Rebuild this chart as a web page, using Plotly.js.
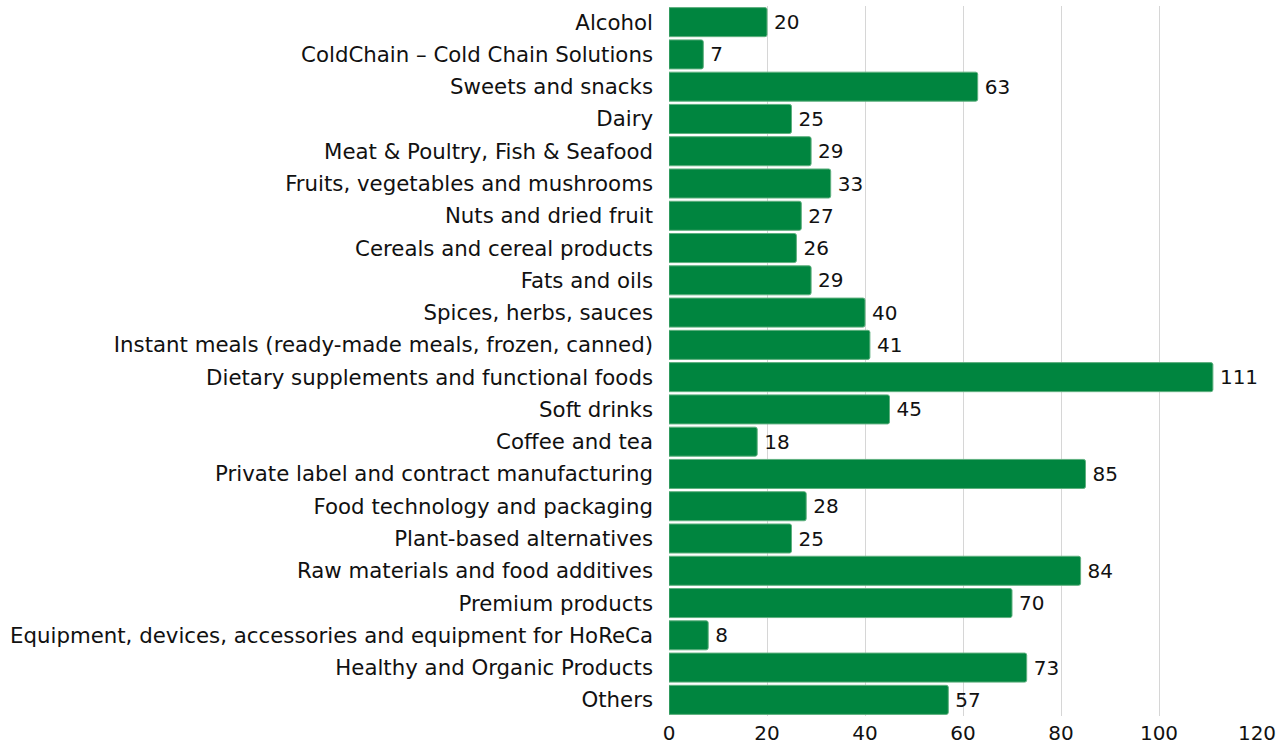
<!DOCTYPE html>
<html>
<head>
<meta charset="utf-8">
<script src="https://cdn.plot.ly/plotly-3.0.1.min.js"></script>
<style>html,body{margin:0;padding:0;background:#fff;}#chart{width:1286px;height:747px;}</style>
</head>
<body>
<div id="chart"></div>
<script>
const categories = [
  "Alcohol",
  "ColdChain – Cold Chain Solutions",
  "Sweets and snacks",
  "Dairy",
  "Meat & Poultry, Fish & Seafood",
  "Fruits, vegetables and mushrooms",
  "Nuts and dried fruit",
  "Cereals and cereal products",
  "Fats and oils",
  "Spices, herbs, sauces",
  "Instant meals (ready-made meals, frozen, canned)",
  "Dietary supplements and functional foods",
  "Soft drinks",
  "Coffee and tea",
  "Private label and contract manufacturing",
  "Food technology and packaging",
  "Plant-based alternatives",
  "Raw materials and food additives",
  "Premium products",
  "Equipment, devices, accessories and equipment for HoReCa",
  "Healthy and Organic Products",
  "Others"
];
const values = [20, 7, 63, 25, 29, 33, 27, 26, 29, 40, 41, 111, 45, 18, 85, 28, 25, 84, 70, 8, 73, 57];
const xTicks = [0, 20, 40, 60, 80, 100, 120];

const FONT = '"DejaVu Sans", sans-serif';

const trace = {
  type: 'bar',
  orientation: 'h',
  y: categories,
  x: values,
  text: values.map(v => '\u2009' + v),
  textposition: 'outside',
  cliponaxis: false,
  textfont: {family: FONT, size: 20, color: '#111'},
  marker: {color: '#00853F', line: {color: '#5fb07f', width: 1}, cornerradius: 2},
  hoverinfo: 'x+y'
};

const layout = {
  width: 1286, height: 747,
  margin: {l: 669, r: 29, t: 6, b: 31},
  paper_bgcolor: '#fff', plot_bgcolor: '#fff',
  bargap: 0.1,
  showlegend: false,
  font: {family: FONT, size: 20, color: '#111'},
  xaxis: {
    range: [0, 120],
    tickvals: xTicks,
    ticktext: xTicks.map(String),
    showgrid: true, gridcolor: '#d6d6d6', gridwidth: 1,
    zeroline: false, showline: false,
    ticks: '', ticklen: 0,
    tickfont: {family: FONT, size: 20, color: '#111'},
    ticklabelstandoff: 3
  },
  yaxis: {
    autorange: 'reversed',
    type: 'category',
    showgrid: false, zeroline: false, showline: false,
    ticks: '', ticklen: 0,
    tickfont: {family: FONT, size: 21.3, color: '#111'},
    ticklabelstandoff: 15
  }
};

Plotly.newPlot('chart', [trace], layout, {displayModeBar: false, staticPlot: true});
</script>
</body>
</html>
